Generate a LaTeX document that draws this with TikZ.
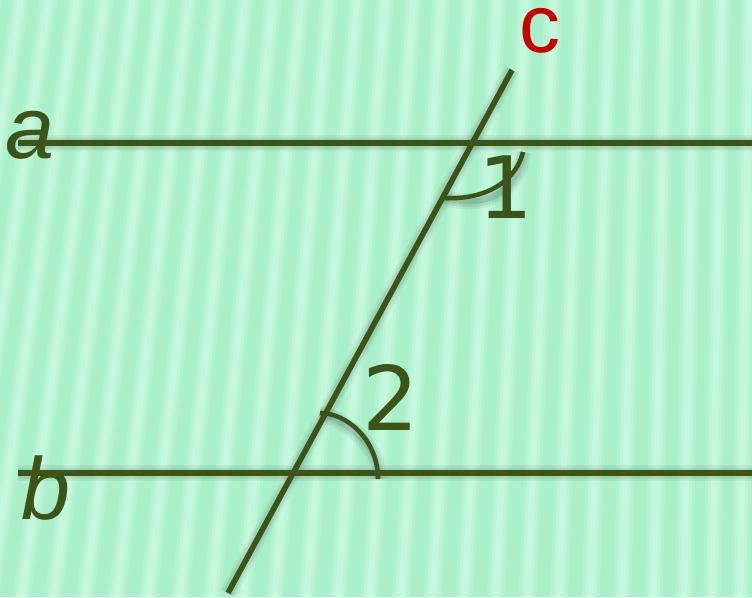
\documentclass[tikz,border=0pt]{standalone}
\usepackage{fontspec}
\setmainfont{Liberation Sans}
\newfontfamily\numfont{DejaVu Sans}
\definecolor{bgbase}{HTML}{A9EFC9}
\definecolor{bglight}{HTML}{CFFEE5}
\definecolor{olive}{HTML}{3D5419}
\definecolor{redc}{HTML}{C80000}
\begin{document}
\begin{tikzpicture}[x=1pt,y=-1pt,
  geoline/.style={draw=olive,line width=5.5pt},
  shadowline/.style={draw=black,line width=#1},
  lbl/.style={text=olive,anchor=base,inner sep=0pt,font=\fontsize{88}{88}\selectfont},
]
\useasboundingbox (0,0) rectangle (752,597);
% background
\fill[bgbase] (0,0) rectangle (752,597);
\begin{scope}
\clip (0,0) rectangle (752,597);
\foreach \i in {0,...,28}{
  \pgfmathsetmacro{\xt}{\i*28-6}
  \pgfmathsetmacro{\sl}{max(10,100*(1-\xt/760))}
  \draw[bglight,line width=18pt,opacity=0.25] (\xt,-10) -- (\xt-\sl,610);
  \draw[bglight,line width=12pt,opacity=0.35] (\xt,-10) -- (\xt-\sl,610);
  \draw[bglight,line width=6pt,opacity=0.45] (\xt,-10) -- (\xt-\sl,610);
}
\end{scope}
% coordinates
\coordinate (a1) at (18,143);
\coordinate (a2) at (752,143);
\coordinate (b1) at (18,473);
\coordinate (b2) at (752,473);
\coordinate (c1) at (512,70);
\coordinate (c2) at (228,593);
\coordinate (s1) at (445,198);
\coordinate (e1) at (523,152);
\coordinate (s2) at (320,413);
\coordinate (e2) at (378,479);
% shadows
\begin{scope}[shift={(3,9)}]
\foreach \w/\o in {16pt/0.05,11pt/0.07,6pt/0.1}{
  \draw[shadowline=\w,opacity=\o] (a1) -- (a2);
  \draw[shadowline=\w,opacity=\o] (b1) -- (b2);
  \draw[shadowline=\w,opacity=\o] (c1) -- (c2);
  \draw[shadowline=\w,opacity=\o] (s1) .. controls (480,200) and (515,185) .. (e1);
  \draw[shadowline=\w,opacity=\o] (s2) .. controls (347,413) and (378,440) .. (e2);
}
\end{scope}
% lines
\draw[geoline] (a1) -- (a2);
\draw[geoline] (b1) -- (b2);
\draw[geoline] (c1) -- (c2);
\draw[draw=olive,line width=4.5pt] (s1) .. controls (480,200) and (515,185) .. (e1);
\draw[draw=olive,line width=4.5pt] (s2) .. controls (347,413) and (378,440) .. (e2);
% labels
\node[lbl,font=\fontsize{88}{88}\selectfont\itshape] (la) at (30,158) {a};
\node[lbl,font=\fontsize{88}{88}\selectfont\itshape] (lb) at (46,519) {b};
\node[lbl,text=redc,font=\fontsize{82}{82}\selectfont] (lc) at (540,52) {c};
\node[lbl,font=\fontsize{86}{86}\selectfont\numfont] (l1) at (506,218) {1};
\node[lbl,font=\fontsize{89}{89}\selectfont\numfont] (l2) at (391,430) {2};
\end{tikzpicture}
\end{document}
